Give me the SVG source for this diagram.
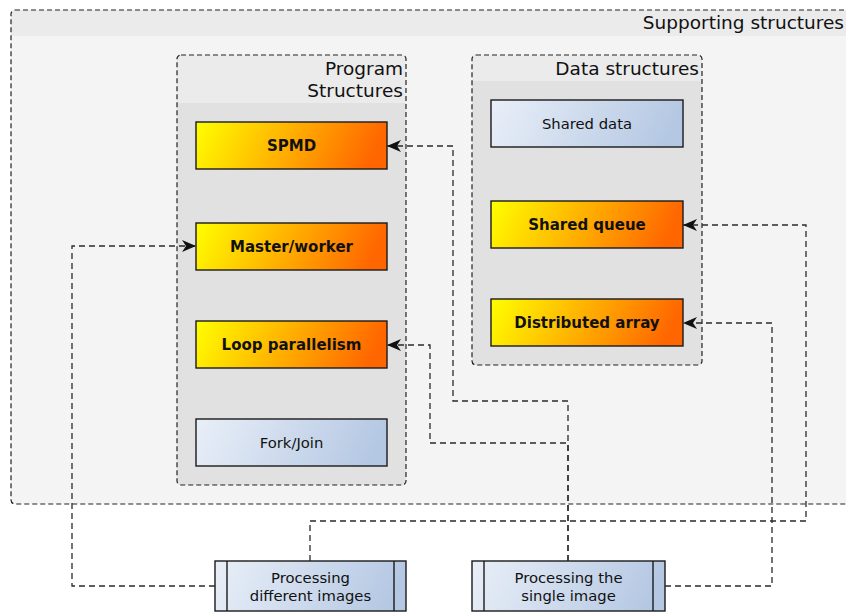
<svg xmlns="http://www.w3.org/2000/svg" width="846" height="612" viewBox="0 0 846 612">
<style>
  .cont{stroke:#222;stroke-width:1.2;stroke-dasharray:5,3;fill:none}
  .hdr{fill:#ebebeb}
  .t{font-family:"DejaVu Sans",sans-serif;fill:#111}
  .title{font-size:18.5px;text-anchor:end}
  .lbl{font-size:14.8px;text-anchor:middle}
  .bold{font-size:15px;font-weight:bold;text-anchor:middle}
  .box{stroke:#1a1a1a;stroke-width:1.4}
  .conn{fill:none;stroke:#2a2a2a;stroke-width:1.3;stroke-dasharray:6,4}
</style>
<defs>
  <linearGradient id="org" x1="0" y1="0" x2="1" y2="0.12">
    <stop offset="0" stop-color="#ffff00"/>
    <stop offset="1" stop-color="#ff6600"/>
  </linearGradient>
  <linearGradient id="blu" x1="0" y1="0" x2="1" y2="0.12">
    <stop offset="0" stop-color="#e9eff8"/>
    <stop offset="1" stop-color="#b5c8e3"/>
  </linearGradient>
  <marker id="arr" markerWidth="15" markerHeight="13" viewBox="0 0 15 13" refX="14" refY="6.5" orient="auto" markerUnits="userSpaceOnUse">
    <path d="M0,0.5 L14,6.5 L0,12.5 L4,6.5 Z" fill="#111"/>
  </marker>
</defs>
<rect width="846" height="612" fill="#fff"/>

<g id="supporting">
  <rect x="11" y="10" width="850" height="494" rx="4" fill="#f4f4f4"/>
  <path class="hdr" d="M15,10 H861 V36 H11 V14 A4,4 0 0 1 15,10 Z"/>
  <rect class="cont" x="11" y="10" width="850" height="494" rx="4"/>
  <text class="t title" x="844" y="29">Supporting structures</text>
</g>

<g id="program">
  <rect x="177" y="55" width="229" height="430" rx="4" fill="#e1e1e1"/>
  <path class="hdr" d="M181,55 H402 A4,4 0 0 1 406,59 V103 H177 V59 A4,4 0 0 1 181,55 Z"/>
  <rect class="cont" x="177" y="55" width="229" height="430" rx="4"/>
  <text class="t title" x="403" y="75">Program</text>
  <text class="t title" x="403" y="97">Structures</text>
</g>

<g id="data">
  <rect x="472" y="55" width="230" height="310" rx="4" fill="#e1e1e1"/>
  <path class="hdr" d="M476,55 H698 A4,4 0 0 1 702,59 V81 H472 V59 A4,4 0 0 1 476,55 Z"/>
  <rect class="cont" x="472" y="55" width="230" height="310" rx="4"/>
  <text class="t title" x="699" y="75">Data structures</text>
</g>

<g id="spmd">
  <rect class="box" x="196" y="122" width="191" height="47" fill="url(#org)"/>
  <text class="t bold" x="291.5" y="151">SPMD</text>
</g>
<g id="master">
  <rect class="box" x="196" y="223" width="191" height="47" fill="url(#org)"/>
  <text class="t bold" x="291.5" y="252">Master/worker</text>
</g>
<g id="loop">
  <rect class="box" x="196" y="321" width="191" height="47" fill="url(#org)"/>
  <text class="t bold" x="291.5" y="350">Loop parallelism</text>
</g>
<g id="forkjoin">
  <rect class="box" x="196" y="419" width="191" height="47" fill="url(#blu)"/>
  <text class="t lbl" x="291.5" y="448">Fork/Join</text>
</g>
<g id="shareddata">
  <rect class="box" x="491" y="100" width="192" height="47" fill="url(#blu)"/>
  <text class="t lbl" x="587" y="129">Shared data</text>
</g>
<g id="sharedqueue">
  <rect class="box" x="491" y="201" width="192" height="47" fill="url(#org)"/>
  <text class="t bold" x="587" y="230">Shared queue</text>
</g>
<g id="distarray">
  <rect class="box" x="491" y="299" width="192" height="47" fill="url(#org)"/>
  <text class="t bold" x="587" y="328">Distributed array</text>
</g>

<g id="procdiff">
  <rect class="box" x="215" y="561" width="191" height="50" fill="url(#blu)"/>
  <line class="box" x1="227" y1="561" x2="227" y2="611"/>
  <line class="box" x1="394" y1="561" x2="394" y2="611"/>
  <text class="t lbl" x="310.5" y="583">Processing</text>
  <text class="t lbl" x="310.5" y="601">different images</text>
</g>
<g id="procsingle">
  <rect class="box" x="472" y="561" width="193" height="50" fill="url(#blu)"/>
  <line class="box" x1="484" y1="561" x2="484" y2="611"/>
  <line class="box" x1="653" y1="561" x2="653" y2="611"/>
  <text class="t lbl" x="568.5" y="583">Processing the</text>
  <text class="t lbl" x="568.5" y="601">single image</text>
</g>

<g id="connectors">
  <path class="conn" d="M215,586 H72 V246 H196" marker-end="url(#arr)"/>
  <path class="conn" d="M310,561 V521 H806 V225 H683" marker-end="url(#arr)"/>
  <path class="conn" d="M568,561 V401 H453 V146 H387" marker-end="url(#arr)"/>
  <path class="conn" d="M568,561 V443 H430 V345 H387" marker-end="url(#arr)"/>
  <path class="conn" d="M665,586 H772 V323 H683" marker-end="url(#arr)"/>
</g>
</svg>
